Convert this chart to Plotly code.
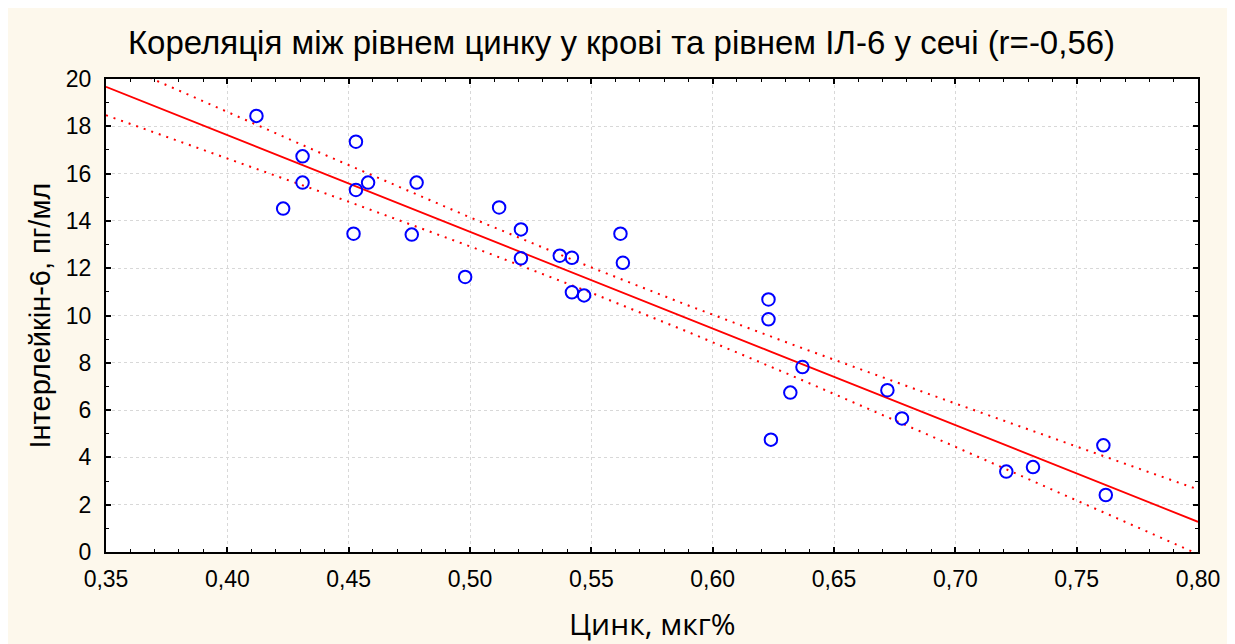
import numpy as np
import plotly.graph_objects as go

# ---- data ----
zinc = [0.412, 0.431, 0.431, 0.423, 0.453, 0.453, 0.458, 0.452, 0.478, 0.476,
        0.498, 0.512, 0.521, 0.521, 0.537, 0.542, 0.542, 0.547, 0.562, 0.563,
        0.623, 0.623, 0.624, 0.637, 0.632, 0.672, 0.678, 0.721, 0.732, 0.761, 0.762]
il6 = [18.44, 16.73, 15.62, 14.52, 17.35, 15.31, 15.62, 13.46, 15.62, 13.42,
       11.63, 14.57, 13.64, 12.42, 12.53, 12.44, 10.98, 10.85, 13.46, 12.23,
       10.68, 9.84, 4.75, 7.82, 6.74, 6.84, 5.65, 3.40, 3.59, 4.51, 2.41]
x_ticks = [0.35, 0.40, 0.45, 0.50, 0.55, 0.60, 0.65, 0.70, 0.75, 0.80]
y_ticks = [0, 2, 4, 6, 8, 10, 12, 14, 16, 18, 20]
t_crit = 2.045  # 95% t, df = 29

title_text = "Кореляція між рівнем цинку у крові та рівнем ІЛ-6 у сечі (r=-0,56)"
x_label = "Цинк, мкг%"
y_label = "Інтерлейкін-6, пг/мл"

# ---- regression + 95% confidence band ----
x = np.array(zinc)
y = np.array(il6)
n = len(x)
slope, intercept = np.polyfit(x, y, 1)
resid = y - (intercept + slope * x)
s = np.sqrt(np.sum(resid ** 2) / (n - 2))
xbar = x.mean()
sxx = np.sum((x - xbar) ** 2)
xf = np.linspace(x_ticks[0], x_ticks[-1], 200)
yf = intercept + slope * xf
hw = t_crit * s * np.sqrt(1 / n + (xf - xbar) ** 2 / sxx)

W, H = 1227, 636
ML, MR, MT, MB = 98, 37, 71, 92
pw, ph = W - ML - MR, H - MT - MB

FONT = "Arial, 'Liberation Sans', sans-serif"
RED = "#FF0000"

fig = go.Figure()
fig.add_trace(go.Scatter(x=xf, y=yf + hw, mode="lines",
                         line=dict(color=RED, width=2, dash="2px,6px"), hoverinfo="skip"))
fig.add_trace(go.Scatter(x=xf, y=yf - hw, mode="lines",
                         line=dict(color=RED, width=2, dash="2px,6px"), hoverinfo="skip"))
fig.add_trace(go.Scatter(x=xf, y=yf, mode="lines",
                         line=dict(color=RED, width=1.8), hoverinfo="skip"))
fig.add_trace(go.Scatter(x=zinc, y=il6, mode="markers",
                         marker=dict(symbol="circle-open", size=12.5, color="#0000FF",
                                     line=dict(width=2, color="#0000FF"))))

def px_x(p):
    return (p - ML) / pw

def px_y(p):
    return (H - MB - p) / ph

axis_common = dict(
    showline=True, linecolor="black", linewidth=2, mirror="ticks",
    ticks="inside", ticklen=5, tickwidth=1.5, tickcolor="black",
    showgrid=True, gridcolor="#D8D8D8", griddash="dot", gridwidth=1,
    zeroline=False, tickfont=dict(family=FONT, size=23, color="black"),
)

fig.update_xaxes(range=[x_ticks[0], x_ticks[-1]], tickvals=x_ticks, tickformat=".2f",
                 minor=dict(ticks="inside", ticklen=3, dtick=0.01, tickcolor="black",
                            tickwidth=1.2, showgrid=False),
                 ticklabelstandoff=5, **axis_common)
fig.update_yaxes(range=[y_ticks[0], y_ticks[-1]], tickvals=y_ticks,
                 minor=dict(ticks="inside", ticklen=3, dtick=1, tickcolor="black",
                            tickwidth=1.2, showgrid=False),
                 ticklabelstandoff=8, **axis_common)

fig.add_annotation(text=x_label, xref="paper", yref="paper", x=0.5, y=px_y(615),
                   showarrow=False, xanchor="center", yanchor="middle",
                   font=dict(family="'Open Sans', sans-serif", size=30, color="black"))
fig.add_annotation(text=y_label, xref="paper", yref="paper", x=px_x(31), y=0.5,
                   showarrow=False, xanchor="center", yanchor="middle", textangle=-90,
                   font=dict(family=FONT, size=29, color="black"))

fig.update_layout(
    width=W, height=H,
    margin=dict(l=ML, r=MR, t=MT, b=MB),
    paper_bgcolor="#FDF8EC", plot_bgcolor="white",
    separators=", ",
    showlegend=False,
    title=dict(text=title_text, x=0.5, xref="container", xanchor="center",
               y=1 - 34 / H, yref="container", yanchor="middle",
               font=dict(family=FONT, size=33, color="black")),
)

fig.write_html("out.html")
